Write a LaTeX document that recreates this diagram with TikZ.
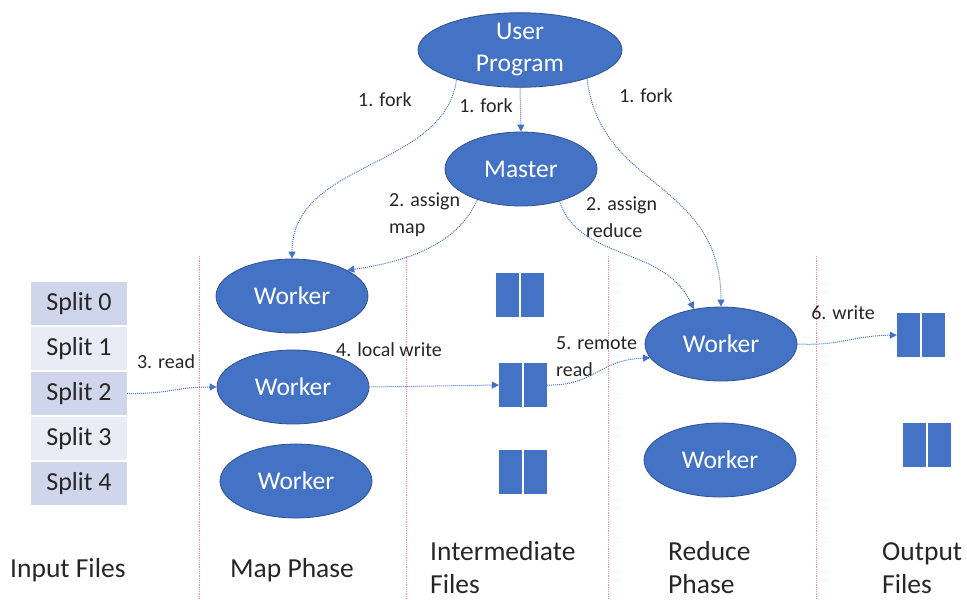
\documentclass[tikz,border=0pt]{standalone}
\usepackage{fontspec}
\setmainfont{Carlito}
\usetikzlibrary{shapes.geometric,arrows.meta}
\definecolor{wblue}{HTML}{4472C4}
\definecolor{wedge}{HTML}{2F528F}
\definecolor{darksplit}{HTML}{CFD5EA}
\definecolor{lightsplit}{HTML}{E9EBF5}
\definecolor{labelgray}{HTML}{262626}
\definecolor{seprule}{HTML}{FF8A8A}
\tikzset{
  proc/.style={ellipse, fill=wblue, draw=wedge, line width=0.8pt, text=white,
    minimum width=152pt, minimum height=74pt, inner sep=0pt,
    font=\fontsize{25.5}{32}\selectfont, align=center},
  splitbox/.style={rectangle, minimum width=96pt, minimum height=43pt, inner sep=0pt,
    text=labelgray, font=\fontsize{26}{30}\selectfont},
  filebox/.style={rectangle, fill=wblue, minimum width=48pt, minimum height=44pt, inner sep=0pt,
    path picture={\draw[white, line width=2pt] (path picture bounding box.north) -- (path picture bounding box.south);}},
  steplabel/.style={text=labelgray, font=\fontsize{20}{27}\selectfont, align=left, inner sep=0pt},
  phaselabel/.style={text=labelgray, font=\fontsize{27.5}{33}\selectfont, align=left, inner sep=0pt, anchor=west},
  flow/.style={draw=wblue, densely dotted, line width=1pt, -{Triangle[length=7pt,width=7pt]}},
  lane/.style={draw=seprule, densely dotted, line width=0.8pt}
}
\begin{document}
\begin{tikzpicture}[x=1pt,y=-1pt]
\useasboundingbox (0,0) rectangle (967,600);

% phase separators
\foreach \x in {199,406,608,816} \draw[lane] (\x,256) -- (\x,600);

% processes
\node[proc, minimum width=204pt, minimum height=73pt] (up) at (520,50) {User\\Program};
\node[proc] (master) at (521,169) {Master};
\node[proc] (w1) at (292,296) {Worker};
\node[proc] (w2) at (293,387) {Worker};
\node[proc] (w3) at (296,481) {Worker};
\node[proc] (r1) at (721,344) {Worker};
\node[proc] (r2) at (720,460) {Worker};

% input splits
\node[splitbox, fill=darksplit]  (s0) at (79,303.5) {Split 0};
\node[splitbox, fill=lightsplit] (s1) at (79,348.5) {Split 1};
\node[splitbox, fill=darksplit]  (s2) at (79,393.5) {Split 2};
\node[splitbox, fill=lightsplit] (s3) at (79,438.5) {Split 3};
\node[splitbox, fill=darksplit]  (s4) at (79,483.5) {Split 4};

% intermediate and output files
\node[filebox] (i1) at (520,295) {};
\node[filebox] (i2) at (523,385) {};
\node[filebox] (i3) at (523,472) {};
\node[filebox] (o1) at (921,335) {};
\node[filebox] (o2) at (927,445) {};

% step labels
\node[steplabel] (lf1) at (385,100) {1. fork};
\node[steplabel] (lf2) at (486,106) {1. fork};
\node[steplabel] (lf3) at (646,96) {1. fork};
\node[steplabel, anchor=west] (lam) at (389,215) {2. assign\\map};
\node[steplabel, anchor=west] (lar) at (586,217) {2. assign\\reduce};
\node[steplabel] (lrd) at (166,362) {3. read};
\node[steplabel] (llw) at (389,350) {4. local write};
\node[steplabel, anchor=west] (lrr) at (556,357) {5. remote\\read};
\node[steplabel] (lwr) at (843,313) {6. write};

% phase labels
\node[phaselabel] (pin) at (10,570) {Input Files};
\node[phaselabel] (pmap) at (230,570) {Map Phase};
\node[phaselabel] (pint) at (430,568) {Intermediate\\Files};
\node[phaselabel] (pred) at (668,568) {Reduce\\Phase};
\node[phaselabel] (pout) at (882,568) {Output\\Files};

% control flow
\draw[flow] (up.205) .. controls (444,170) and (292,160) .. (w1.north);
\draw[flow] (up.south) -- (master.north);
\draw[flow] (up.337) .. controls (600,190) and (721,180) .. (r1.north);
\draw[flow] (master.215) .. controls (458,245) and (405,262) .. (w1.25);
\draw[flow] (master.320) .. controls (580,262) and (664,245) .. (r1.128);

% data flow
\draw[flow] (s2.east) .. controls (170,394) and (175,387) .. (w2.west);
\draw[flow] (w2.east) -- (i2.west);
\draw[flow] (i2.east) .. controls (595,386) and (598,360) .. (r1.191);
\draw[flow] (r1.east) .. controls (842,346) and (850,336) .. (o1.west);
\end{tikzpicture}
\end{document}
